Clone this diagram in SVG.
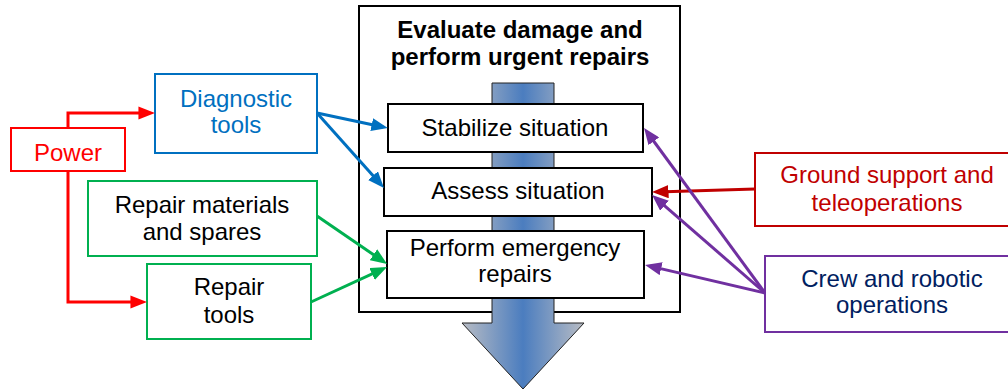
<svg xmlns="http://www.w3.org/2000/svg" width="1008" height="391" viewBox="0 0 1008 391">
<style>
text{font-family:"Liberation Sans",Arial,sans-serif;font-size:24px;text-anchor:middle}
.title{font-weight:bold}
.box{fill:#fff;stroke-width:2}
.blk{stroke:#000}
.con{fill:none;stroke-width:3}
</style>
<defs>
<linearGradient id="g" gradientUnits="userSpaceOnUse" x1="462" y1="0" x2="584" y2="0">
<stop offset="0" stop-color="#b8bcc4"/>
<stop offset="0.5" stop-color="#4b7dbf"/>
<stop offset="1" stop-color="#b8bcc4"/>
</linearGradient>
<marker id="mRed" viewBox="0 0 10 8" refX="7" refY="4" markerWidth="5.5" markerHeight="4.4" orient="auto"><path d="M0,0L10,4L0,8z" fill="#ff0000"/></marker>
<marker id="mBlue" viewBox="0 0 10 8" refX="7" refY="4" markerWidth="5.5" markerHeight="4.4" orient="auto"><path d="M0,0L10,4L0,8z" fill="#0070c0"/></marker>
<marker id="mGreen" viewBox="0 0 10 8" refX="7" refY="4" markerWidth="5.5" markerHeight="4.4" orient="auto"><path d="M0,0L10,4L0,8z" fill="#00b050"/></marker>
<marker id="mDred" viewBox="0 0 10 8" refX="7" refY="4" markerWidth="5.5" markerHeight="4.4" orient="auto"><path d="M0,0L10,4L0,8z" fill="#c00000"/></marker>
<marker id="mPur" viewBox="0 0 10 8" refX="7" refY="4" markerWidth="5.5" markerHeight="4.4" orient="auto"><path d="M0,0L10,4L0,8z" fill="#7030a0"/></marker>
</defs>
<rect width="1008" height="391" fill="#fff"/>
<g id="container">
<rect x="359" y="6" width="321" height="306" fill="#fff" stroke="#000" stroke-width="2"/>
<text class="title" x="520" y="38">Evaluate damage and</text>
<text class="title" x="520" y="65">perform urgent repairs</text>
</g>
<g id="flow-arrow">
<path d="M492,83H554V323H584L523,389L462,323H492Z" fill="url(#g)" stroke="#222" stroke-width="1"/>
</g>
<g id="stabilize">
<rect class="box blk" x="388" y="104" width="255" height="48"/>
<text x="515" y="136">Stabilize situation</text>
</g>
<g id="assess">
<rect class="box blk" x="384" y="168" width="268" height="48"/>
<text x="518" y="199">Assess situation</text>
</g>
<g id="perform">
<rect class="box blk" x="387" y="231" width="257" height="67"/>
<text x="515" y="256">Perform emergency</text>
<text x="515" y="282">repairs</text>
</g>
<g id="power">
<rect class="box" x="11" y="128" width="114" height="43" stroke="#ff0000"/>
<text x="68" y="161" fill="#ff0000">Power</text>
</g>
<g id="diagnostic">
<rect class="box" x="155" y="74" width="162" height="79" stroke="#0070c0"/>
<text x="236" y="107" fill="#0070c0">Diagnostic</text>
<text x="236" y="133" fill="#0070c0">tools</text>
</g>
<g id="materials">
<rect class="box" x="88" y="181" width="229" height="75" stroke="#00b050"/>
<text x="202" y="213">Repair materials</text>
<text x="202" y="240">and spares</text>
</g>
<g id="repair-tools">
<rect class="box" x="147" y="264" width="164" height="75" stroke="#00b050"/>
<text x="229" y="295">Repair</text>
<text x="229" y="323">tools</text>
</g>
<g id="ground">
<rect class="box" x="755" y="153" width="270" height="73" stroke="#c00000"/>
<text x="887" y="183" fill="#c00000">Ground support and</text>
<text x="887" y="211" fill="#c00000">teleoperations</text>
</g>
<g id="crew">
<rect class="box" x="765" y="256" width="260" height="76" stroke="#7030a0"/>
<text x="892" y="287" fill="#002060">Crew and robotic</text>
<text x="892" y="313" fill="#002060">operations</text>
</g>
<g id="connectors">
<path class="con" stroke="#ff0000" marker-end="url(#mRed)" d="M68,128V113H150"/>
<path class="con" stroke="#ff0000" marker-end="url(#mRed)" d="M68,171V302H142"/>
<path class="con" stroke="#0070c0" marker-end="url(#mBlue)" d="M317,113L383,127"/>
<path class="con" stroke="#0070c0" marker-end="url(#mBlue)" d="M317,113L380.7,184.3"/>
<path class="con" stroke="#00b050" marker-end="url(#mGreen)" d="M317,216L383,261.2"/>
<path class="con" stroke="#00b050" marker-end="url(#mGreen)" d="M311,302L382.5,269.1"/>
<path class="con" stroke="#c00000" marker-end="url(#mDred)" d="M755,189L657,191.9"/>
<path class="con" stroke="#7030a0" marker-end="url(#mPur)" d="M765,293L647,132"/>
<path class="con" stroke="#7030a0" marker-end="url(#mPur)" d="M765,293L655.8,198.2"/>
<path class="con" stroke="#7030a0" marker-end="url(#mPur)" d="M765,293L649.9,266.1"/>
</g>
</svg>
